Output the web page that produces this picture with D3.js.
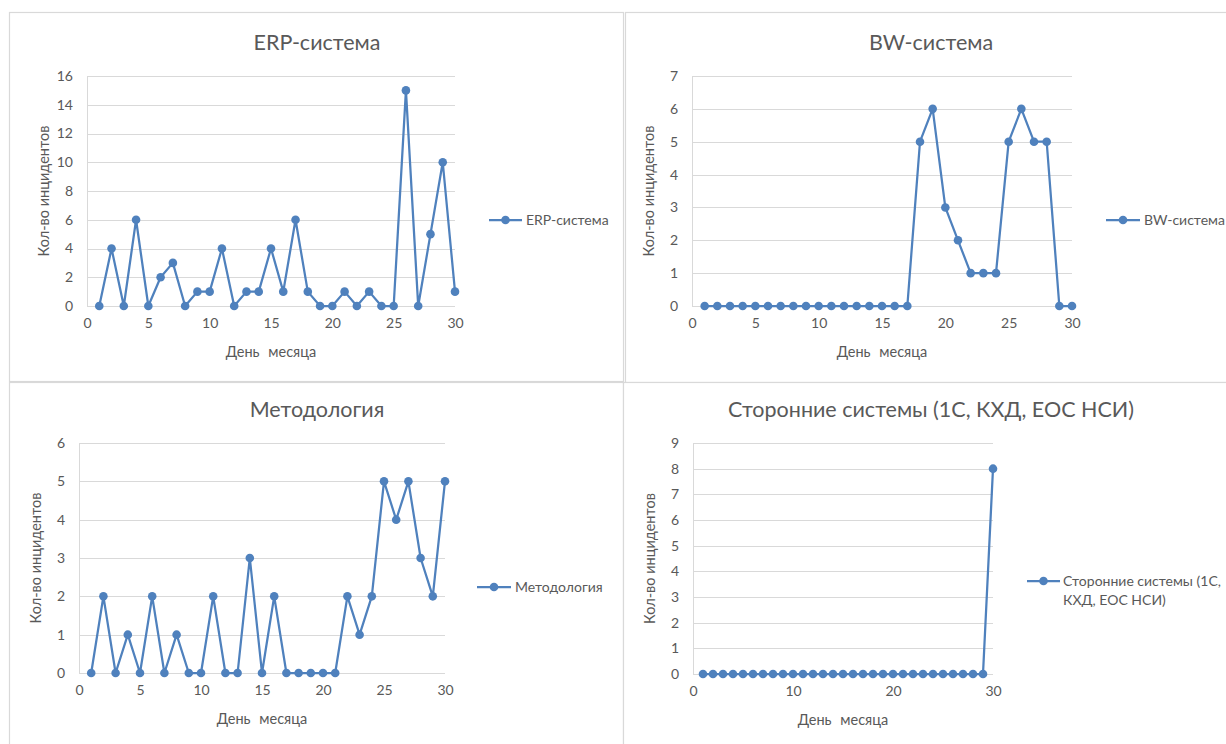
<!DOCTYPE html>
<html>
<head>
<meta charset="utf-8">
<script src="https://cdn.jsdelivr.net/npm/d3@7"></script>
<style>
  html, body { margin: 0; padding: 0; background: #fff; }
  svg { display: block; font-family: Lato, "Open Sans", sans-serif; }
  text { fill: #595959; }
</style>
</head>
<body>
<svg id="chart" width="1226" height="744"></svg>
<script>
// Days of the month shared by all four series
const days = d3.range(1, 31);

// Incident counts per day
const erpValues = [0,4,0,6,0,2,3,0,1,1,4,0,1,1,4,1,6,1,0,0,1,0,1,0,0,15,0,5,10,1];
const bwValues = [0,0,0,0,0,0,0,0,0,0,0,0,0,0,0,0,0,5,6,3,2,1,1,1,5,6,5,5,0,0];
const methodValues = [0,2,0,1,0,2,0,1,0,0,2,0,0,3,0,2,0,0,0,0,0,2,1,2,5,4,5,3,2,5];
const thirdPartyValues = [0,0,0,0,0,0,0,0,0,0,0,0,0,0,0,0,0,0,0,0,0,0,0,0,0,0,0,0,0,8];

// Titles / legend names
const titles = ["ERP-система", "BW-система", "Методология", "Сторонние системы (1С, КХД, ЕОС НСИ)"];
const legendLines = [["ERP-система"], ["BW-система"], ["Методология"], ["Сторонние системы (1С,", "КХД, ЕОС НСИ)"]];

// Axis ranges and tick steps
const yMax = [16, 7, 6, 9];
const yStep = [2, 1, 1, 1];
const xTicks = [[0,5,10,15,20,25,30],[0,5,10,15,20,25,30],[0,5,10,15,20,25,30],[0,10,20,30]];
const xAxisTitle = "День месяца";
const yAxisTitle = "Кол-во инцидентов";

const seriesValues = [erpValues, bwValues, methodValues, thirdPartyValues];

// Panel layout: frame box, plot area, title and legend placement
const layout = [
  { box: [9, 12, 614, 369],  plot: [87, 76, 455, 306],  titleX: 317, titleY: 50, legend: [489, 522, 220, 526] },
  { box: [625, 12, 620, 370], plot: [692, 76, 1072, 306], titleX: 931, titleY: 50, legend: [1106, 1140, 220, 1144] },
  { box: [9, 382, 614, 400], plot: [79, 443, 445, 673], titleX: 317, titleY: 417, legend: [477, 511, 587, 515] },
  { box: [623, 382, 620, 400], plot: [693, 443, 993, 674], titleX: 931, titleY: 417, legend: [1027, 1060, 581, 1063] }
];

const color = "#4f81bd";
const svg = d3.select("#chart");

layout.forEach((L, i) => {
  const g = svg.append("g");
  const [bx, by, bw, bh] = L.box;
  g.append("rect")
    .attr("x", bx + 0.5).attr("y", by + 0.5)
    .attr("width", bw).attr("height", bh)
    .attr("fill", "#fff").attr("stroke", "#d9d9d9").attr("stroke-width", 1.2);

  const [x0, y0, x1, y1] = L.plot;
  const x = d3.scaleLinear().domain([0, 30]).range([x0, x1]);
  const y = d3.scaleLinear().domain([0, yMax[i]]).range([y1, y0]);
  const yTicks = d3.range(0, yMax[i] + 0.001, yStep[i]);

  // horizontal gridlines
  g.append("g").selectAll("line").data(yTicks).join("line")
    .attr("x1", x0).attr("x2", x1)
    .attr("y1", d => Math.round(y(d)) + 0.5).attr("y2", d => Math.round(y(d)) + 0.5)
    .attr("stroke", "#d9d9d9").attr("stroke-width", 1);

  // vertical axis line
  g.append("line")
    .attr("x1", Math.round(x0) + 0.5).attr("x2", Math.round(x0) + 0.5)
    .attr("y1", y0).attr("y2", y1)
    .attr("stroke", "#d9d9d9").attr("stroke-width", 1);

  // y axis tick labels
  const yAxis = d3.axisLeft(y).tickValues(yTicks).tickFormat(d3.format("d"))
    .tickSize(0).tickPadding(14);
  const ya = g.append("g").attr("transform", `translate(${x0},0)`).call(yAxis);
  ya.select(".domain").remove();
  ya.selectAll("text").attr("font-size", 14).attr("fill", "#595959")
    .style("font-family", "Lato, sans-serif");

  // x axis tick labels
  const xAxis = d3.axisBottom(x).tickValues(xTicks[i]).tickFormat(d3.format("d"))
    .tickSize(0).tickPadding(12);
  const xa = g.append("g").attr("transform", `translate(0,${y1})`).call(xAxis);
  xa.select(".domain").remove();
  xa.selectAll("text").attr("font-size", 14).attr("fill", "#595959")
    .style("font-family", "Lato, sans-serif");

  // axis titles
  g.append("text")
    .attr("x", (x0 + x1) / 2).attr("y", y1 + 51)
    .attr("text-anchor", "middle").attr("font-size", 14.5)
    .attr("word-spacing", 5)
    .text(xAxisTitle);
  g.append("text")
    .attr("transform", `translate(${x0 - 38},${(y0 + y1) / 2}) rotate(-90)`)
    .attr("text-anchor", "middle").attr("font-size", 14.5)
    .text(yAxisTitle);

  // chart title
  g.append("text")
    .attr("x", L.titleX).attr("y", L.titleY)
    .attr("text-anchor", "middle").attr("font-size", 21.5)
    .text(titles[i]);

  // series line and markers
  const pts = days.map((d, k) => [d, seriesValues[i][k]]);
  g.append("path")
    .datum(pts)
    .attr("fill", "none").attr("stroke", color)
    .attr("stroke-width", 2.25).attr("stroke-linejoin", "round")
    .attr("d", d3.line().x(d => x(d[0])).y(d => y(d[1])));
  g.append("g").selectAll("circle").data(pts).join("circle")
    .attr("cx", d => x(d[0])).attr("cy", d => y(d[1]))
    .attr("r", 4.3).attr("fill", color);

  // legend
  const [lx0, lx1, ly, tx] = L.legend;
  g.append("line")
    .attr("x1", lx0).attr("x2", lx1).attr("y1", ly).attr("y2", ly)
    .attr("stroke", color).attr("stroke-width", 2.25);
  g.append("circle")
    .attr("cx", (lx0 + lx1) / 2).attr("cy", ly).attr("r", 4.3).attr("fill", color);
  const lt = g.append("text")
    .attr("x", tx).attr("y", ly + 5).attr("font-size", 14);
  legendLines[i].forEach((s, k) => {
    lt.append("tspan").attr("x", tx).attr("dy", k === 0 ? 0 : 19).text(s);
  });
});
</script>
</body>
</html>
